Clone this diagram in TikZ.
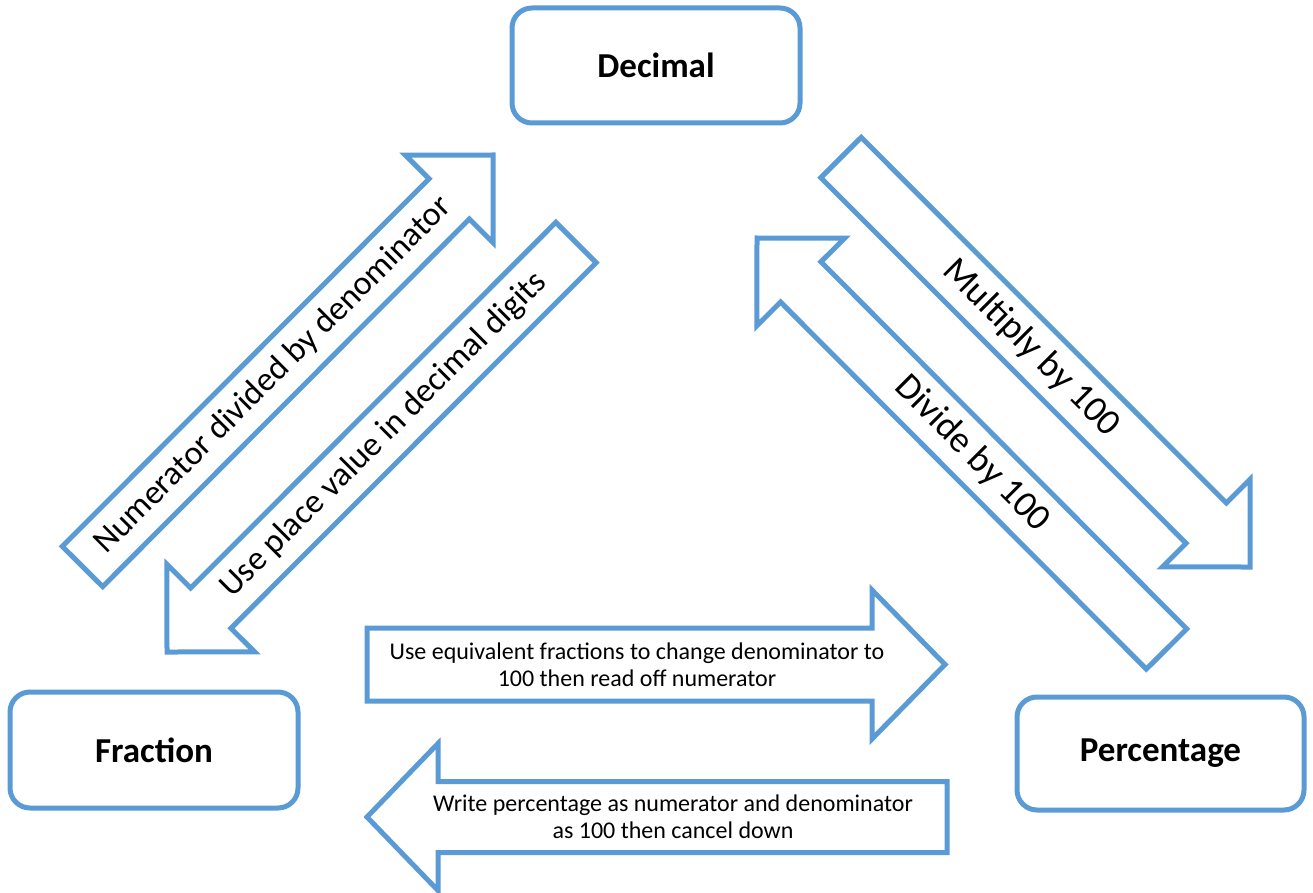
\documentclass[tikz,border=0pt]{standalone}
\usepackage{fontspec}
\setmainfont{Carlito}
\usetikzlibrary{calc}
\definecolor{ablue}{HTML}{5B9BD5}
% #1 tail centre, #2 tip, #3 shaft half width, #4 head half width, #5 head length
\newcommand\blockarrow[5]{%
  \coordinate (hb) at ($(#2)!#5!(#1)$);
  \draw[arrowline] ($(#1)!#3!90:(#2)$) -- ($(hb)!#3!-90:(#1)$) -- ($(hb)!#4!-90:(#1)$) -- (#2)
    -- ($(hb)!#4!90:(#1)$) -- ($(hb)!#3!90:(#1)$) -- ($(#1)!#3!-90:(#2)$) -- cycle;}
\begin{document}
\begin{tikzpicture}[x=1pt,y=-1pt,
  box/.style={draw=ablue, line width=5pt, rounded corners=20pt, fill=white,
    font=\fontsize{35}{42}\selectfont\bfseries, inner sep=0pt},
  arrowline/.style={draw=ablue, line width=5pt, fill=white, line join=miter},
  dlabA/.style={font=\fontsize{34}{40}\selectfont, inner sep=0pt},
  dlabC/.style={font=\fontsize{37}{44}\selectfont, inner sep=0pt},
  hlab/.style={font=\fontsize{24}{27}\selectfont, align=center, inner sep=0pt}]
\fill[white] (0,0) rectangle (1313,893);
\useasboundingbox (0,0) rectangle (1313,893);

% boxes
\node[box, minimum width=288pt, minimum height=115pt] (dec) at (656,65.5) {Decimal};
\node[box, minimum width=288pt, minimum height=116pt] (fra) at (154,750) {Fraction};
\node[box, minimum width=287pt, minimum height=113pt] (per) at (1160.5,753.5) {Percentage};

% arrow end points
\coordinate (Atail) at (82.5,566.5);  \coordinate (Atip) at (493,155);
\coordinate (Btail) at (576,242.5);   \coordinate (Btip) at (167,652);
\coordinate (Ctail) at (841,157.5);   \coordinate (Ctip) at (1250,567);
\coordinate (Dtail) at (1166.5,649);  \coordinate (Dtip) at (757,238);
\coordinate (Etail) at (367,664.5);   \coordinate (Etip) at (945,664.5);
\coordinate (Ftail) at (947,817);     \coordinate (Ftip) at (367,817);

\blockarrow{Atail}{Atip}{28.5pt}{62pt}{62pt}
\blockarrow{Btail}{Btip}{28.5pt}{62pt}{62pt}
\blockarrow{Ctail}{Ctip}{28.5pt}{62pt}{62pt}
\blockarrow{Dtail}{Dtip}{28.5pt}{62pt}{62pt}
\blockarrow{Etail}{Etip}{36.5pt}{74.5pt}{73pt}
\blockarrow{Ftail}{Ftip}{35.5pt}{73.5pt}{71pt}

% labels
\node[dlabA, rotate=45] (tA) at ($(Atail)!0.465!(Atip)$) {Numerator divided by denominator};
\node[dlabA, rotate=45] (tB) at ($(Btail)!0.47!(Btip)$) {Use place value in decimal digits};
\node[dlabC, rotate=-45] (tC) at ($(Ctail)!0.465!(Ctip)$) {Multiply by 100};
\node[dlabC, rotate=-45] (tD) at ($(Dtail)!0.475!(Dtip)$) {Divide by 100};
\node[hlab] (tE) at (637,665) {Use equivalent fractions to change denominator to\\100 then read off numerator};
\node[hlab] (tF) at (673,817) {Write percentage as numerator and denominator\\as 100 then cancel down};
\end{tikzpicture}
\end{document}
